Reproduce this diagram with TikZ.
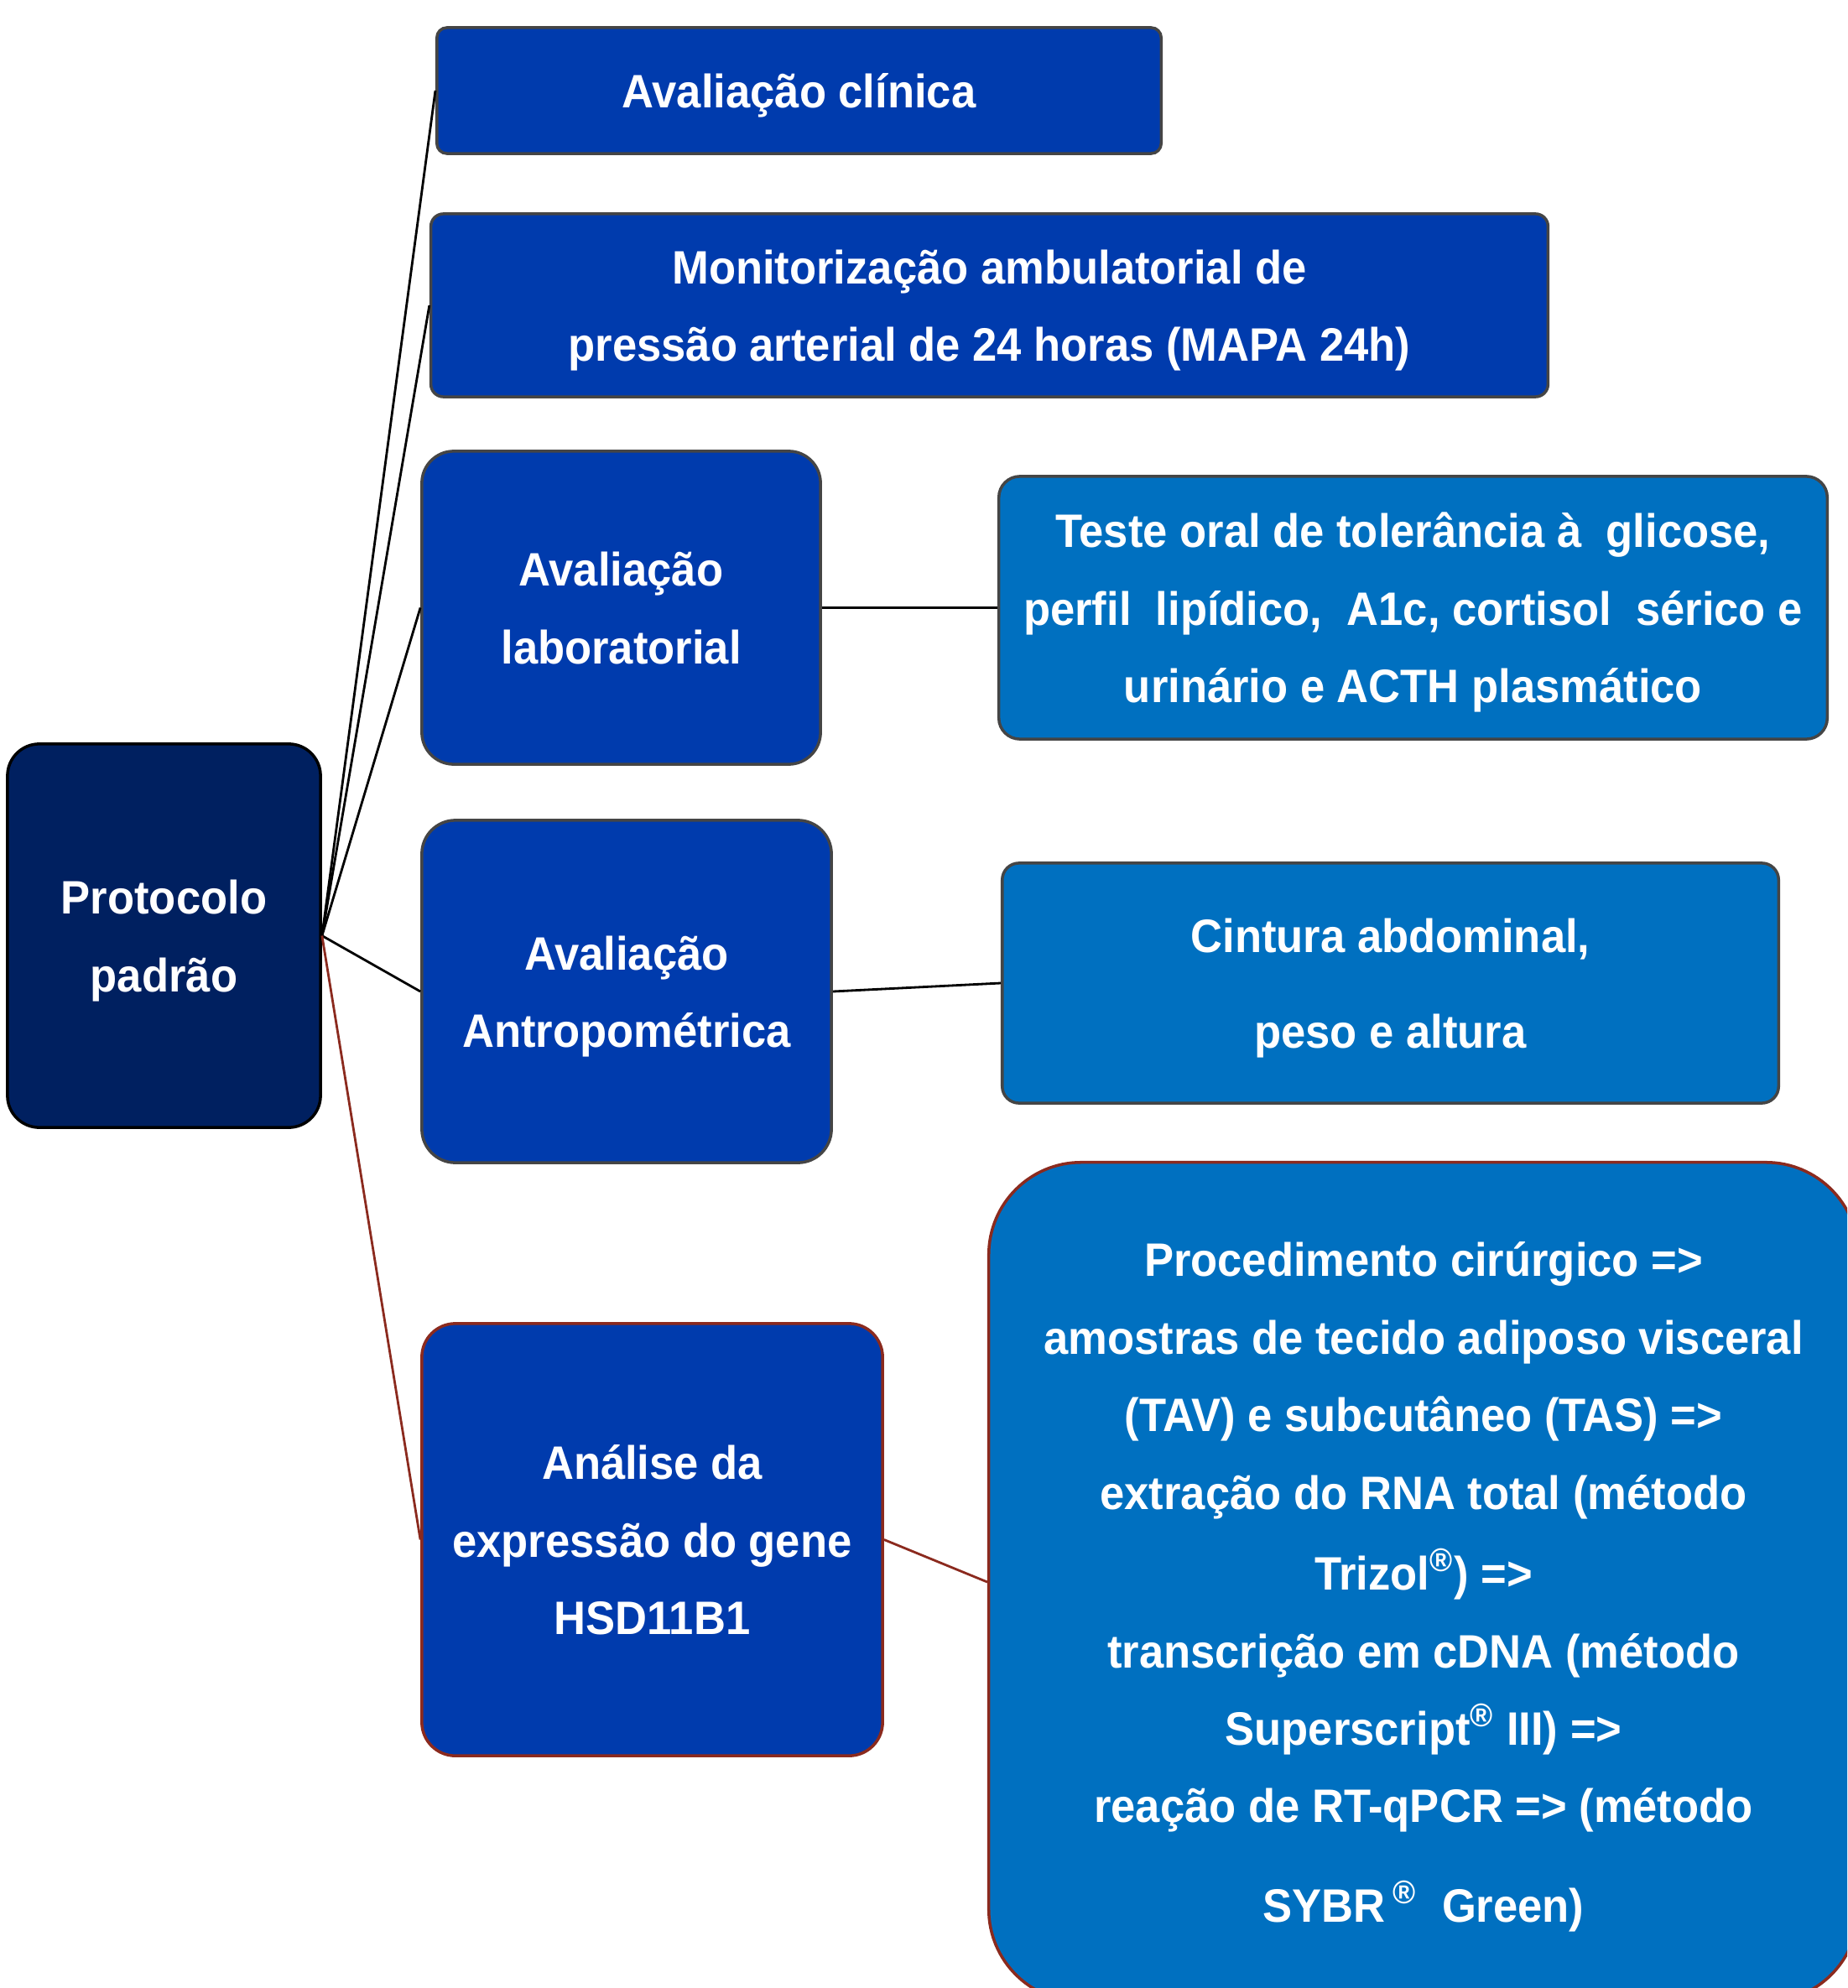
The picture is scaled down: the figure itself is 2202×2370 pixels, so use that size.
\documentclass[tikz,border=0pt]{standalone}
\usepackage{fontspec}
\setmainfont{Liberation Sans}[FakeStretch=0.94]

\definecolor{navy}{HTML}{002060}
\definecolor{royal}{HTML}{003BAD}
\definecolor{ocean}{HTML}{0070C0}
\definecolor{rust}{HTML}{8B2A1E}
\definecolor{rim}{HTML}{454545}

\begin{document}
\begin{tikzpicture}[x=0.01cm,y=-0.01cm,
    box/.style={draw=rim,line width=1pt,text=white,align=center,inner sep=0pt,
      font=\fontsize{15.9}{26.3}\selectfont\bfseries,text depth=-5pt},
    stepa/.style={box,fill=royal},
    stepb/.style={box,fill=ocean},
    link/.style={line width=0.8pt}]
  \useasboundingbox (0,0) rectangle (2202,2370);
  \clip (0,0) rectangle (2202,2370);

  \node[box,fill=navy,draw=black,rounded corners=0.38cm,minimum width=3.73cm,minimum height=4.57cm]
    (prot) at (195.5,1115.5) {Protocolo\\padrão};

  \node[stepa,rounded corners=0.12cm,minimum width=8.63cm,minimum height=1.50cm]
    (clin) at (952.5,108) {Avaliação clínica};
  \node[stepa,rounded corners=0.15cm,minimum width=13.31cm,minimum height=2.18cm]
    (mapa) at (1179.5,364) {Monitorização ambulatorial de\\pressão arterial de 24 horas (MAPA 24h)};
  \node[stepa,rounded corners=0.38cm,minimum width=4.75cm,minimum height=3.73cm]
    (lab) at (740.5,724.5) {Avaliação\\laboratorial};
  \node[stepa,rounded corners=0.4cm,minimum width=4.88cm,minimum height=4.08cm]
    (antro) at (747,1182) {Avaliação\\Antropométrica};
  \node[stepa,draw=rust,rounded corners=0.4cm,minimum width=5.49cm,minimum height=5.15cm]
    (gene) at (777.5,1835.5) {Análise da\\expressão do gene\\HSD11B1};

  \node[stepb,rounded corners=0.25cm,minimum width=9.87cm,minimum height=3.13cm]
    (exames) at (1684.5,724.5) {Teste oral de tolerância à\ \ glicose,\\perfil\ \ lipídico,\ \ A1c, cortisol\ \ sérico e\\urinário e ACTH plasmático};
  \node[stepb,rounded corners=0.2cm,minimum width=9.25cm,minimum height=2.86cm]
    (medidas) at (1657.5,1172) {Cintura abdominal,\\[0.21cm]peso e altura};
  \node[stepb,draw=rust,rounded corners=1.1cm,minimum width=10.36cm,minimum height=10cm]
    (proc) at (1697,1886) {Procedimento cirúrgico =>\\
      amostras de tecido adiposo visceral\\
      (TAV) e subcutâneo (TAS) =>\\
      extração do RNA total (método\\[0.04cm]
      Trizol\textsuperscript{®}) =>\\
      transcrição em cDNA (método\\
      Superscript\textsuperscript{®} III) =>\\
      reação de RT-qPCR => (método\\[0.26cm]
      SYBR\,\textsuperscript{®}\ \ Green)};

  \draw[link] (prot.east) -- (clin.west);
  \draw[link] (prot.east) -- (mapa.west);
  \draw[link] (prot.east) -- (lab.west);
  \draw[link] (prot.east) -- (antro.west);
  \draw[link,rust] (prot.east) -- (gene.west);
  \draw[link] (lab.east) -- (exames.west);
  \draw[link] (antro.east) -- (medidas.west);
  \draw[link,rust] (gene.east) -- (proc.west);
\end{tikzpicture}
\end{document}
